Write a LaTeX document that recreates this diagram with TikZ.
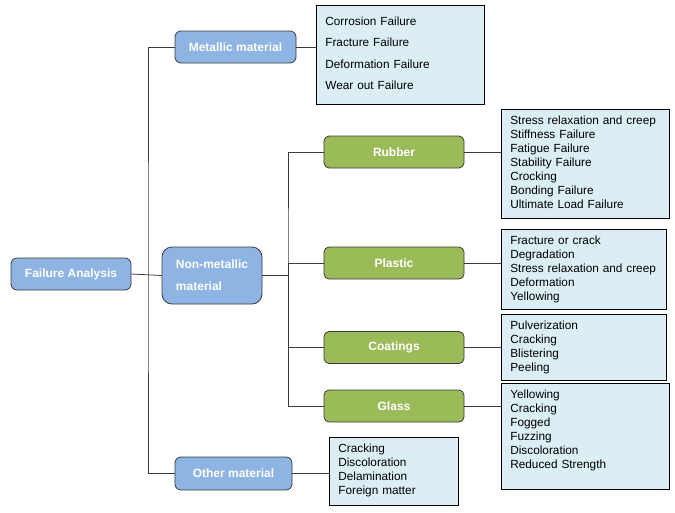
\documentclass[tikz,border=0pt]{standalone}
\usepackage{fontspec}
\setmainfont{Liberation Sans}
\usepackage{tikz}
\usetikzlibrary{positioning}
\definecolor{catblue}{HTML}{8DB4E2}
\definecolor{catgreen}{HTML}{9BBB59}
\definecolor{listfill}{HTML}{DAEEF3}
\definecolor{edgegray}{HTML}{3B3B3B}

\begin{document}
\begin{tikzpicture}[
    x=1pt, y=-1pt,
    every node/.style={font=\fontsize{11.8}{14}\selectfont},
    mainbox/.style={
        draw=edgegray,
        rounded corners=6pt,
        line width=0.8pt,
        fill=catblue,
        text=white,
        align=center,
        font=\fontsize{12}{22}\selectfont\bfseries
    },
    subbox/.style={
        draw=edgegray,
        rounded corners=5pt,
        line width=0.8pt,
        fill=catgreen,
        text=white,
        minimum width=140pt,
        minimum height=32pt,
        font=\fontsize{12}{14}\selectfont\bfseries
    },
    listbox/.style={
        draw=black,
        line width=0.7pt,
        fill=listfill,
        anchor=north west,
        align=left,
        inner xsep=9pt,
        inner ysep=5pt,
        text height=10pt
    },
    conn/.style={
        draw=edgegray,
        line width=0.8pt
    }
]
\useasboundingbox (0,0) rectangle (675,512);

\node[mainbox, minimum width=120pt, minimum height=32pt] (fa) at (71,274) {Failure Analysis};
\node[mainbox, minimum width=121pt, minimum height=32pt] (metal) at (235.5,47) {Metallic material};
\node[mainbox, minimum width=100pt, minimum height=57pt, align=left, rounded corners=10pt] (nonmet) at (212,275.5) {Non-metallic\\material};
\node[mainbox, minimum width=117pt, minimum height=33pt] (other) at (233.5,473.5) {Other material};

\node[subbox] (rubber) at (394,152) {Rubber};
\node[subbox] (plastic) at (394,263) {Plastic};
\node[subbox] (coat) at (394,347.5) {Coatings};
\node[subbox] (glass) at (394,406) {Glass};

\node[listbox, text width=150pt, text height=15pt, text depth=74pt, font=\fontsize{11.8}{21.5}\selectfont] (metall) at (316,5)
    {Corrosion Failure\\Fracture Failure\\Deformation Failure\\Wear out Failure};
\node[listbox, text width=150pt, text depth=89pt] (rubberl) at (501,109)
    {Stress relaxation and creep\\Stiffness Failure\\Fatigue Failure\\Stability Failure\\Crocking\\Bonding Failure\\Ultimate Load Failure};
\node[listbox, text width=147pt, text depth=60pt] (plasticl) at (501,229)
    {Fracture or crack\\Degradation\\Stress relaxation and creep\\Deformation\\Yellowing};
\node[listbox, text width=147pt, text depth=46pt] (coatl) at (501,314)
    {Pulverization\\Cracking\\Blistering\\Peeling};
\node[listbox, text width=150pt, text depth=86pt] (glassl) at (501,383)
    {Yellowing\\Cracking\\Fogged\\Fuzzing\\Discoloration\\Reduced Strength};
\node[listbox, text width=111pt, text depth=48pt] (otherl) at (329,437)
    {Cracking\\Discoloration\\Delamination\\Foreign matter};

\coordinate (trunk) at (148,274);
\coordinate (nmj) at (288,263);

\draw[conn] (fa.east) -- (nonmet.west);
\draw[conn] (metal.west) -| (trunk) |- (other.west);
\draw[conn] (nonmet.east) -- (nonmet.east -| nmj);
\draw[conn] (rubber.west) -| (nmj) |- (glass.west);
\draw[conn] (nmj) -- (plastic.west);
\draw[conn] (nmj) |- (coat.west);

\draw[conn] (metal.east) -- (metal.east -| metall.west);
\draw[conn] (rubber.east) -- (rubber.east -| rubberl.west);
\draw[conn] (plastic.east) -- (plastic.east -| plasticl.west);
\draw[conn] (coat.east) -- (coat.east -| coatl.west);
\draw[conn] (glass.east) -- (glass.east -| glassl.west);
\draw[conn] (other.east) -- (other.east -| otherl.west);

\end{tikzpicture}
\end{document}
